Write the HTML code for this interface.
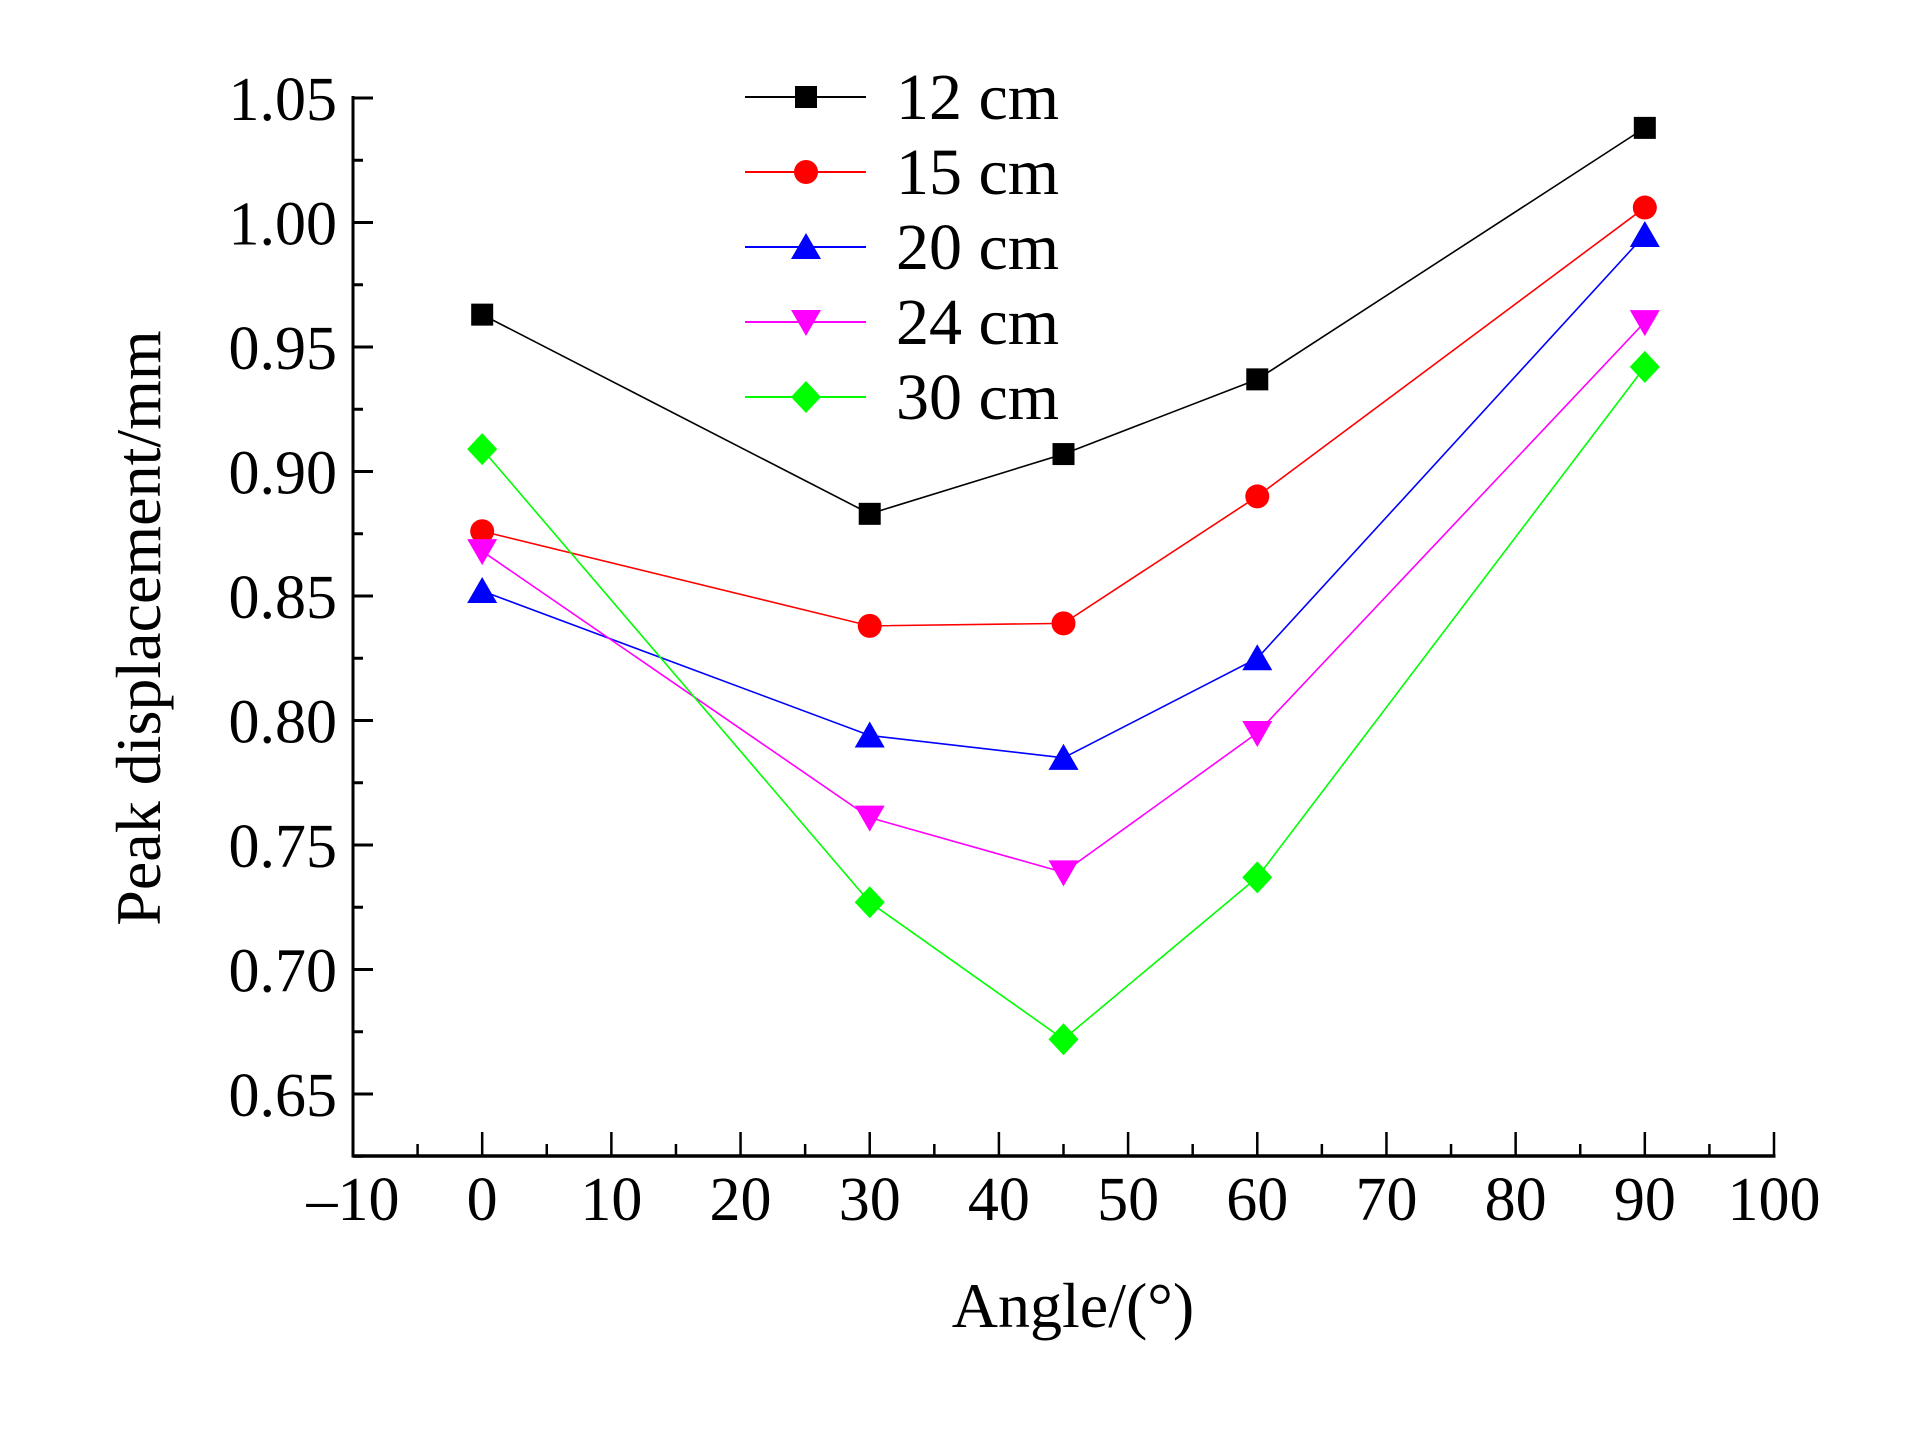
<!DOCTYPE html>
<html><head><meta charset="utf-8"><style>
html,body{margin:0;padding:0;background:#fff;}
svg{display:block;}
text{font-family:"Liberation Serif",serif;fill:#000;}
</style></head><body>
<svg id="chart" width="1923" height="1429" viewBox="0 0 1923 1429" xmlns="http://www.w3.org/2000/svg">
<g id="axes"></g><g id="series"></g><g id="legend"></g>
</svg>
<script>
const categories = [0, 30, 45, 60, 90];
const seriesNames = ["12 cm", "15 cm", "20 cm", "24 cm", "30 cm"];
const s12 = [0.963, 0.883, 0.907, 0.937, 1.038];
const s15 = [0.876, 0.838, 0.839, 0.890, 1.006];
const s20 = [0.852, 0.794, 0.785, 0.825, 0.995];
const s24 = [0.868, 0.761, 0.739, 0.795, 0.960];
const s30 = [0.909, 0.727, 0.672, 0.737, 0.942];
const xTicks = [-10, 0, 10, 20, 30, 40, 50, 60, 70, 80, 90, 100];
const xTickLabels = ["\u201310", "0", "10", "20", "30", "40", "50", "60", "70", "80", "90", "100"];
const yTicks = [0.65, 0.70, 0.75, 0.80, 0.85, 0.90, 0.95, 1.00, 1.05];
const yTickLabels = ["0.65", "0.70", "0.75", "0.80", "0.85", "0.90", "0.95", "1.00", "1.05"];

const NS = "http://www.w3.org/2000/svg";
const X0 = 353, X1 = 1774, Y0 = 1156;
const xMin = -10, xMax = 100;
const yAt065 = 1094, yAt105 = 98;
function xs(v){ return X0 + (v - xMin) / (xMax - xMin) * (X1 - X0); }
function ys(v){ return yAt065 + (v - 0.65) / (1.05 - 0.65) * (yAt105 - yAt065); }
function mk(tag, attrs, parent){
  const e = document.createElementNS(NS, tag);
  for (const k in attrs) e.setAttribute(k, attrs[k]);
  parent.appendChild(e); return e;
}
const axes = document.getElementById('axes');
const series = document.getElementById('series');
const legend = document.getElementById('legend');

let ax = mk('line', {x1:X0, y1:Y0, x2:X1+1.5, y2:Y0, stroke:'#000','stroke-width':3.5}, axes);


let ay = mk('line', {x1:X0, y1:Y0+1.5, x2:X0, y2:96, stroke:'#000','stroke-width':3}, axes);



xTicks.forEach((v, i) => {
  const x = xs(v);
  const t = mk('line', {x1:x, y1:Y0, x2:x, y2:Y0-24, stroke:'#000','stroke-width':2.5}, axes);
  
  
  if (i < xTicks.length - 1) {
    const xm = xs(v + 5);
    const m = mk('line', {x1:xm, y1:Y0, x2:xm, y2:Y0-12, stroke:'#000','stroke-width':2.5}, axes);
    
    
  }
  const lb = mk('text', {x:x, y:1220, 'font-size':62, 'text-anchor':'middle'}, axes);
  lb.textContent = xTickLabels[i];
  
  
});
yTicks.forEach((v, i) => {
  const y = ys(v);
  const t = mk('line', {x1:X0, y1:y, x2:X0+20, y2:y, stroke:'#000','stroke-width':3}, axes);
  
  
  const ym = ys(v - 0.025);
  const m = mk('line', {x1:X0, y1:ym, x2:X0+10, y2:ym, stroke:'#000','stroke-width':3}, axes);
  
  
  const lb = mk('text', {x:337, y:y+22, 'font-size':62, 'text-anchor':'end'}, axes);
  lb.textContent = yTickLabels[i];
  
  
});
let xt = mk('text', {x:1073, y:1327, 'font-size':64, 'text-anchor':'middle'}, axes);
xt.textContent = 'Angle/(\u00B0)';


let yt = mk('text', {x:0, y:0, 'font-size':64, 'text-anchor':'middle', transform:'translate(160,628) rotate(-90)'}, axes);
yt.textContent = 'Peak displacement/mm';



const colors = ['#000000', '#ff0000', '#0000ff', '#ff00ff', '#00ff00'];
const shapes = ['square', 'circle', 'triangle', 'invtriangle', 'diamond'];
const allSeries = [s12, s15, s20, s24, s30];

function marker(shape, x, y, color, parent){
  const r = 11;
  let e;
  if (shape === 'square') e = mk('rect', {x:x-r, y:y-r, width:2*r, height:2*r, fill:color}, parent);
  else if (shape === 'circle') e = mk('circle', {cx:x, cy:y, r:r+1, fill:color}, parent);
  else if (shape === 'triangle') e = mk('polygon', {points:`${x},${y-14} ${x+15},${y+12} ${x-15},${y+12}`, fill:color}, parent);
  else if (shape === 'invtriangle') e = mk('polygon', {points:`${x},${y+14} ${x+15},${y-12} ${x-15},${y-12}`, fill:color}, parent);
  else e = mk('polygon', {points:`${x},${y-16} ${x+15},${y} ${x},${y+16} ${x-15},${y}`, fill:color}, parent);
  return e;
}

allSeries.forEach((vals, si) => {
  const g = mk('g', {}, series);
  
  
  const pts = vals.map((v, i) => xs(categories[i]) + ',' + ys(v)).join(' ');
  const pl = mk('polyline', {points:pts, fill:'none', stroke:colors[si], 'stroke-width':1.6}, g);
  
  
  vals.forEach((v, i) => {
    const m = marker(shapes[si], xs(categories[i]), ys(v), colors[si], g);
    
    
  });
  const ly = 97 + si * 75;
  const lg = mk('g', {}, legend);
  
  
  mk('line', {x1:745, y1:ly, x2:866, y2:ly, stroke:colors[si], 'stroke-width':2}, lg);
  marker(shapes[si], 806, ly, colors[si], lg);
  const lt = mk('text', {x:896, y:ly+22, 'font-size':66}, lg);
  lt.textContent = seriesNames[si];
  
  
});
</script>
</body></html>
